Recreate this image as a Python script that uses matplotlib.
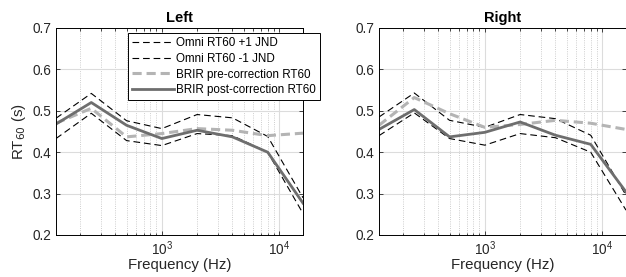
import matplotlib.pyplot as plt
import numpy as np

plt.rcParams['font.family'] = ['Liberation Sans', 'DejaVu Sans']

# octave band centre frequencies (Hz)
freq = [125, 250, 500, 1000, 2000, 4000, 8000, 16000]

# left ear
left_up = [0.482, 0.542, 0.476, 0.457, 0.491, 0.483, 0.438, 0.290]
left_lo = [0.433, 0.494, 0.428, 0.416, 0.445, 0.440, 0.400, 0.252]
left_pre = [0.470, 0.506, 0.437, 0.445, 0.457, 0.453, 0.440, 0.446]
left_post = [0.468, 0.520, 0.465, 0.433, 0.453, 0.437, 0.400, 0.277]

# right ear
right_up = [0.485, 0.543, 0.477, 0.460, 0.491, 0.481, 0.441, 0.296]
right_lo = [0.440, 0.495, 0.433, 0.417, 0.445, 0.435, 0.400, 0.260]
right_pre = [0.465, 0.532, 0.493, 0.460, 0.467, 0.477, 0.470, 0.455]
right_post = [0.455, 0.503, 0.437, 0.448, 0.473, 0.441, 0.419, 0.304]

labels = ['Omni RT60 +1 JND', 'Omni RT60 -1 JND',
          'BRIR pre-correction RT60', 'BRIR post-correction RT60']


def panel(ax, up, lo, pre, post, title):
    h1, = ax.plot(freq, up, '--', color='k', lw=0.8, dashes=(6, 3.5))
    h2, = ax.plot(freq, lo, '--', color='k', lw=0.8, dashes=(6, 3.5))
    h3, = ax.plot(freq, pre, '--', color='#b4b4b4', lw=2.2, dashes=(3, 1.6))
    h4, = ax.plot(freq, post, '-', color='#6e6e6e', lw=2.0)
    ax.set_xscale('log')
    ax.set_xlim(125, 16000)
    ax.set_ylim(0.2, 0.7)
    ax.set_yticks([0.2, 0.3, 0.4, 0.5, 0.6, 0.7])
    ax.grid(True, which='major', color='#dcdcdc', lw=0.8, ls='-')
    ax.grid(True, which='minor', color='#bdbdbd', lw=0.6, ls=':')
    ax.set_axisbelow(True)
    ax.tick_params(which='both', direction='in', top=True, right=True,
                   labelsize=9.8, width=0.6, colors='#262626')
    ax.tick_params(which='major', length=3)
    ax.tick_params(which='minor', length=1.8)
    for s in ax.spines.values():
        s.set_linewidth(0.7)
    ax.set_xlabel('Frequency (Hz)', fontsize=10.8, labelpad=0, color='#262626')
    ax.set_title(title, fontsize=10.5, fontweight='bold', pad=4)
    return [h1, h2, h3, h4]


fig = plt.figure(figsize=(6.26, 2.77), dpi=100)
ax1 = fig.add_axes([56 / 626, 1 - 235 / 277, 247 / 626, 207 / 277])
ax2 = fig.add_axes([379 / 626, 1 - 235 / 277, 247 / 626, 207 / 277])

hs = panel(ax1, left_up, left_lo, left_pre, left_post, 'Left')
panel(ax2, right_up, right_lo, right_pre, right_post, 'Right')
ax1.set_ylabel('RT$_{60}$ (s)', fontsize=10.8, labelpad=3, color='#262626')

leg = ax1.legend(hs, labels, loc='upper left',
                 bbox_to_anchor=(128 / 626, 1 - 33 / 277),
                 bbox_transform=fig.transFigure, borderaxespad=0,
                 fontsize=8.4, handlelength=3.6, labelspacing=0.32,
                 handletextpad=0.15, borderpad=0.35, fancybox=False,
                 framealpha=1, edgecolor='k')
leg.get_frame().set_linewidth(0.7)

fig.savefig('out.png', dpi=100)
